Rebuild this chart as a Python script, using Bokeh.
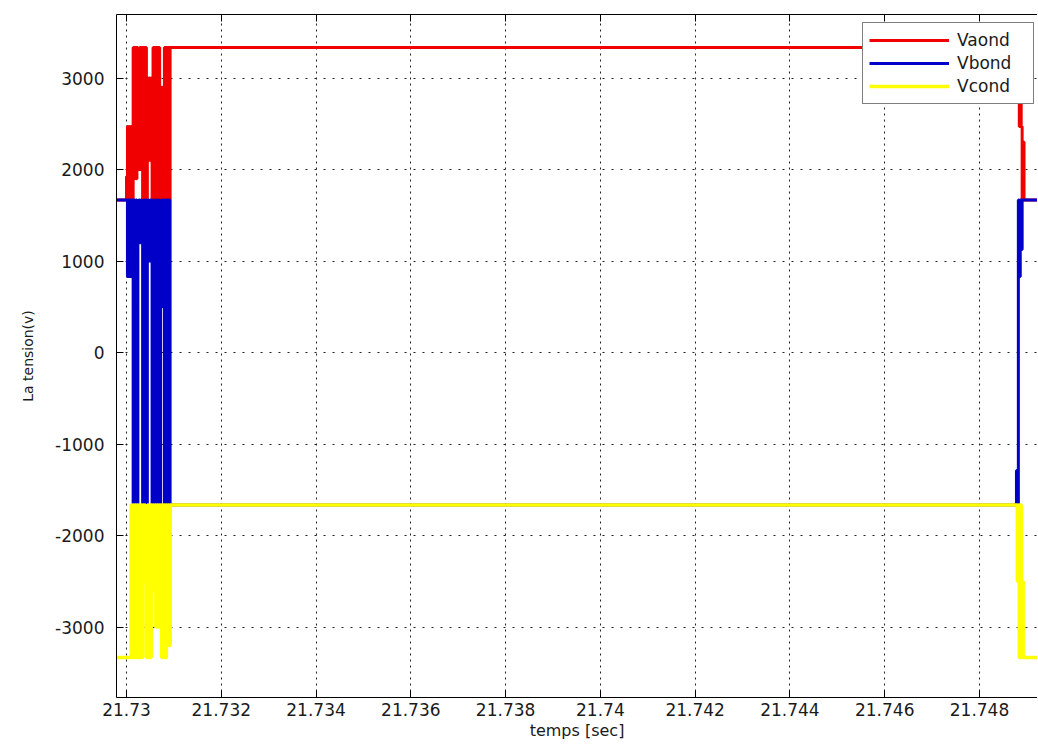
from bokeh.plotting import figure
from bokeh.models import Range1d, FixedTicker, LinearAxis, Legend, LegendItem
from bokeh.embed import file_html
from bokeh.resources import INLINE

# ---------------- data ----------------
x_ticks = [21.730, 21.732, 21.734, 21.736, 21.738, 21.740, 21.742, 21.744, 21.746, 21.748]
x_tick_labels = ["21.73", "21.732", "21.734", "21.736", "21.738", "21.74",
                 "21.742", "21.744", "21.746", "21.748"]
y_ticks = [-3000, -2000, -1000, 0, 1000, 2000, 3000]
y_tick_labels = ["-3000", "-2000", "-1000", "0", "1000", "2000", "3000"]

t_start = 21.7297
t_end = 21.7493

# first switching burst
time_left = [21.73000, 21.73002, 21.73004, 21.73006, 21.73008, 21.73010, 21.73012, 21.73014,
             21.73016, 21.73018, 21.73020, 21.73022, 21.73024, 21.73026, 21.73028, 21.73030,
             21.73032, 21.73034, 21.73036, 21.73038, 21.73040, 21.73042, 21.73044, 21.73046,
             21.73048, 21.73050, 21.73052, 21.73054, 21.73056, 21.73058, 21.73060, 21.73062,
             21.73064, 21.73066, 21.73068, 21.73070, 21.73072, 21.73074, 21.73076, 21.73078,
             21.73080, 21.73082, 21.73084, 21.73086, 21.73088, 21.73090, 21.73092]
# second switching burst
time_right = [21.74876, 21.74878, 21.74880, 21.74882, 21.74884, 21.74886,
              21.74888, 21.74890, 21.74892, 21.74894, 21.74896, 21.74898]

vaond_start = 1667
vaond_left = [1923,
              2470, 1667, 2470, 1667, 2470, 1667,
              3333, 1900, 3333, 1900, 3333,
              2800, 2000, 3333, 2000, 3333,
              1667, 3333, 1667, 3333, 1667,
              3000, 2100, 3000, 2100, 3000,
              1667, 3333, 1667, 3333, 1667, 3333, 1667, 3333, 1667,
              2900, 1667, 2900, 1667,
              3333, 1667, 3333, 1667, 3333, 1667,
              3333]
vaond_right = [3333, 3333, 3333, 3333, 2470, 3333, 2470, 1667, 2300, 1667, 1667, 1667]

vbond_start = 1667
vbond_left = [1667,
              830, 1667, 830, 1667, 830, 1667,
              -1667, 1667, -1667, 1667, -1667,
              1200, 1667, 1200, 1667, 1200,
              -1667, 1667, -1667, 1667, -1667,
              1000, 1667, 1000, 1667, 1000,
              -1667, 1667, -1667, 1667, -1667, 1667, -1667, 1667, -1667,
              500, 1667, 500, 1667,
              -1667, 1667, -1667, 1667, -1667, 1667,
              -1667]
vbond_right = [-1667, -1290, -1667, 1667, 830, 1667, 1125, 1667, 1667, 1667, 1667, 1667]

vcond_start = -3333
vcond_left = [-3333, -3333, -3333, -3333, -3333,
              -1667, -3333, -1667, -3333, -1667, -3333, -1667, -3333, -1667, -3333, -1667, -3333, -1667,
              -2500, -1667, -2500,
              -3333, -1667, -3333, -1667, -3333, -1667,
              -2600, -1667, -2600, -1667, -3000, -1667, -3000, -1667, -2800, -1667,
              -3333, -1667, -3333, -1667, -3333, -1667,
              -3200, -1667, -3200,
              -1667]
vcond_right = [-1667, -1667, -2500, -1667, -3333, -1667, -3333, -2500, -3333, -3333, -3333, -3333]

series_names = ["Vaond", "Vbond", "Vcond"]
series_colors = ["#f00000", "#0000c8", "#ffff00"]
series_widths = [3, 3, 3.6]

# ---------------- figure ----------------
FONT = "DejaVu Sans"
TXT = "#1a1a1a"

p = figure(frame_width=921, frame_height=683,
           x_range=Range1d(21.729789, 21.749224),
           y_range=Range1d(-3770, 3694),
           output_backend="svg", toolbar_location=None,
           min_border_left=116, min_border_right=0,
           min_border_top=14, min_border_bottom=40)
p.background_fill_color = "white"
p.border_fill_color = "white"
p.outline_line_color = None

full_time = [t_start] + time_left + time_right + [t_end]
series_vals = [
    [vaond_start] + vaond_left + vaond_right + [vaond_right[-1]],
    [vbond_start] + vbond_left + vbond_right + [vbond_right[-1]],
    [vcond_start] + vcond_left + vcond_right + [vcond_right[-1]],
]

renderers = []
for vals, col, lw in zip(series_vals, series_colors, series_widths):
    r = p.step(full_time, vals, mode="after", line_color=col, line_width=lw)
    renderers.append(r)

# axes
xt = FixedTicker(ticks=x_ticks)
yt = FixedTicker(ticks=y_ticks)

xa = p.xaxis[0]
xa.ticker = xt
xa.major_label_overrides = {t: l for t, l in zip(x_ticks, x_tick_labels)}
xa.axis_label = "temps [sec]"

ya = p.yaxis[0]
ya.ticker = yt
ya.major_label_overrides = {t: l for t, l in zip(y_ticks, y_tick_labels)}
ya.axis_label = "La tension(v)"

for ax in (xa, ya):
    ax.axis_line_color = "black"
    ax.axis_line_width = 1
    ax.major_tick_in = 7
    ax.major_tick_out = 0
    ax.major_tick_line_color = "black"
    ax.minor_tick_line_color = None
    ax.major_label_text_font = FONT
    ax.major_label_text_font_size = "17px"
    ax.major_label_text_color = TXT
    ax.axis_label_text_font = FONT
    ax.axis_label_text_font_style = "normal"
    ax.axis_label_text_color = TXT

xa.major_label_standoff = 5
xa.axis_label_standoff = 2
xa.axis_label_text_font_size = "16px"
ya.major_label_standoff = 12
ya.axis_label_standoff = 16
ya.axis_label_text_font_size = "14px"

top = LinearAxis(ticker=xt, major_label_text_font_size="1px", major_label_text_color=None,
                 major_label_standoff=0,
                 major_tick_in=7, major_tick_out=0, minor_tick_line_color=None,
                 axis_line_color="black", major_tick_line_color="black")
p.add_layout(top, "above")

# grid
p.xgrid.ticker = xt
p.ygrid.ticker = yt
p.xgrid.grid_line_color = "#222222"
p.xgrid.grid_line_dash = "2 4"
p.ygrid.grid_line_color = "#222222"
p.ygrid.grid_line_dash = "2 7"

# legend (location = bottom-left corner, pixels from the frame's bottom-left)
legend = Legend(items=[LegendItem(label=n, renderers=[r]) for n, r in zip(series_names, renderers)],
                location=(746, 593))
legend.padding = 6
legend.spacing = 1
legend.glyph_width = 80
legend.glyph_height = 22
legend.label_height = 22
legend.label_width = 70
legend.label_standoff = 8
legend.label_text_font = FONT
legend.label_text_font_size = "17px"
legend.label_text_color = TXT
legend.border_line_color = "black"
legend.border_line_width = 1
legend.background_fill_color = "white"
legend.background_fill_alpha = 1.0
legend.margin = 0
p.add_layout(legend)

open("out.html", "w").write(file_html(p, INLINE))
